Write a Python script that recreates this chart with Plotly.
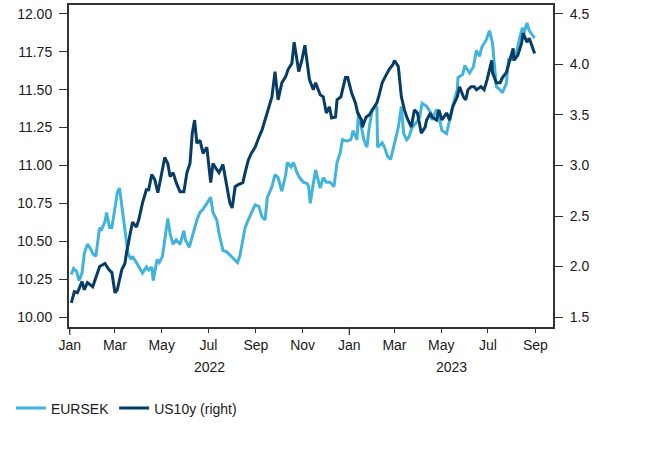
import plotly.graph_objects as go

us_dates = ["2022-01-03","2022-01-07","2022-01-11","2022-01-17","2022-01-20","2022-01-24","2022-01-31","2022-02-04","2022-02-09","2022-02-16","2022-02-21","2022-02-25","2022-03-01","2022-03-04","2022-03-10","2022-03-14","2022-03-16","2022-03-21","2022-03-24","2022-03-29","2022-04-01","2022-04-06","2022-04-11","2022-04-14","2022-04-18","2022-04-22","2022-04-26","2022-05-02","2022-05-05","2022-05-09","2022-05-12","2022-05-16","2022-05-20","2022-05-25","2022-05-30","2022-06-03","2022-06-07","2022-06-10","2022-06-13","2022-06-16","2022-06-20","2022-06-24","2022-06-29","2022-07-04","2022-07-07","2022-07-12","2022-07-15","2022-07-20","2022-07-25","2022-07-29","2022-08-01","2022-08-05","2022-08-09","2022-08-15","2022-08-18","2022-08-22","2022-08-26","2022-08-31","2022-09-05","2022-09-09","2022-09-13","2022-09-16","2022-09-22","2022-09-26","2022-09-30","2022-10-05","2022-10-10","2022-10-13","2022-10-18","2022-10-21","2022-10-25","2022-10-27","2022-10-31","2022-11-04","2022-11-10","2022-11-15","2022-11-18","2022-11-24","2022-11-28","2022-12-02","2022-12-06","2022-12-09","2022-12-14","2022-12-16","2022-12-21","2022-12-27","2022-12-30","2023-01-04","2023-01-09","2023-01-12","2023-01-17","2023-01-18","2023-01-23","2023-01-27","2023-01-31","2023-02-06","2023-02-09","2023-02-13","2023-02-17","2023-02-22","2023-02-27","2023-03-01","2023-03-06","2023-03-10","2023-03-14","2023-03-17","2023-03-23","2023-03-27","2023-03-31","2023-04-05","2023-04-10","2023-04-12","2023-04-17","2023-04-19","2023-04-25","2023-04-28","2023-05-02","2023-05-08","2023-05-12","2023-05-16","2023-05-22","2023-05-25","2023-05-30","2023-06-02","2023-06-05","2023-06-09","2023-06-13","2023-06-16","2023-06-22","2023-06-26","2023-06-30","2023-07-06","2023-07-07","2023-07-12","2023-07-17","2023-07-20","2023-07-25","2023-07-28","2023-08-03","2023-08-04","2023-08-09","2023-08-14","2023-08-16","2023-08-21","2023-08-24","2023-08-31"]
us10y = [1.64,1.75,1.74,1.85,1.77,1.84,1.80,1.90,2.00,2.03,1.97,1.94,1.74,1.77,1.97,2.03,2.13,2.33,2.44,2.39,2.46,2.63,2.76,2.76,2.91,2.86,2.73,2.96,3.08,3.02,2.89,2.93,2.83,2.74,2.74,2.93,3.02,3.32,3.45,3.22,3.25,3.12,3.18,2.83,3.02,2.96,2.93,3.01,2.79,2.63,2.58,2.79,2.81,2.83,2.93,3.05,3.12,3.18,3.28,3.35,3.45,3.53,3.68,3.93,3.65,3.82,3.88,3.95,4.01,4.22,4.04,3.93,4.04,4.19,3.85,3.75,3.82,3.70,3.68,3.52,3.58,3.47,3.48,3.65,3.68,3.87,3.87,3.72,3.62,3.52,3.45,3.38,3.48,3.50,3.55,3.62,3.70,3.82,3.88,3.95,4.00,4.04,3.98,3.68,3.55,3.48,3.38,3.55,3.52,3.32,3.38,3.45,3.52,3.48,3.45,3.55,3.45,3.52,3.45,3.58,3.68,3.78,3.68,3.65,3.75,3.78,3.78,3.75,3.78,3.75,3.85,4.04,3.92,3.82,3.82,3.87,3.92,4.00,4.16,4.04,4.09,4.21,4.31,4.22,4.26,4.11]

sek_dates = ["2022-01-03","2022-01-06","2022-01-10","2022-01-13","2022-01-17","2022-01-20","2022-01-24","2022-01-27","2022-01-31","2022-02-04","2022-02-09","2022-02-11","2022-02-16","2022-02-18","2022-02-22","2022-02-25","2022-03-02","2022-03-04","2022-03-07","2022-03-10","2022-03-14","2022-03-18","2022-03-22","2022-03-24","2022-03-29","2022-04-01","2022-04-06","2022-04-11","2022-04-14","2022-04-18","2022-04-20","2022-04-25","2022-04-28","2022-05-02","2022-05-09","2022-05-12","2022-05-16","2022-05-20","2022-05-25","2022-05-30","2022-06-01","2022-06-06","2022-06-10","2022-06-16","2022-06-20","2022-06-24","2022-06-29","2022-07-04","2022-07-07","2022-07-12","2022-07-15","2022-07-20","2022-07-25","2022-07-29","2022-08-02","2022-08-08","2022-08-11","2022-08-15","2022-08-18","2022-08-22","2022-08-26","2022-08-31","2022-09-05","2022-09-09","2022-09-13","2022-09-16","2022-09-22","2022-09-26","2022-09-30","2022-10-05","2022-10-10","2022-10-12","2022-10-17","2022-10-20","2022-10-25","2022-10-28","2022-11-02","2022-11-07","2022-11-09","2022-11-11","2022-11-15","2022-11-18","2022-11-24","2022-11-28","2022-12-02","2022-12-07","2022-12-12","2022-12-16","2022-12-20","2022-12-23","2022-12-29","2023-01-03","2023-01-06","2023-01-11","2023-01-13","2023-01-18","2023-01-20","2023-01-24","2023-01-27","2023-01-31","2023-02-06","2023-02-07","2023-02-13","2023-02-16","2023-02-20","2023-02-24","2023-02-28","2023-03-06","2023-03-10","2023-03-13","2023-03-17","2023-03-20","2023-03-24","2023-03-29","2023-04-03","2023-04-06","2023-04-12","2023-04-17","2023-04-19","2023-04-25","2023-04-28","2023-05-02","2023-05-08","2023-05-12","2023-05-16","2023-05-22","2023-05-23","2023-05-29","2023-06-01","2023-06-02","2023-06-07","2023-06-12","2023-06-16","2023-06-20","2023-06-23","2023-06-29","2023-07-03","2023-07-07","2023-07-10","2023-07-12","2023-07-17","2023-07-20","2023-07-25","2023-07-28","2023-08-02","2023-08-07","2023-08-11","2023-08-15","2023-08-17","2023-08-21","2023-08-24","2023-08-31"]
eursek = [10.28,10.32,10.30,10.24,10.29,10.42,10.48,10.46,10.42,10.40,10.59,10.57,10.63,10.69,10.59,10.59,10.75,10.82,10.85,10.73,10.57,10.42,10.38,10.40,10.36,10.33,10.29,10.33,10.31,10.33,10.24,10.38,10.36,10.40,10.65,10.55,10.48,10.51,10.48,10.57,10.51,10.46,10.53,10.64,10.69,10.71,10.75,10.79,10.69,10.64,10.55,10.44,10.43,10.41,10.39,10.36,10.40,10.51,10.59,10.64,10.69,10.74,10.73,10.66,10.64,10.79,10.86,10.94,10.92,10.83,10.94,11.02,10.99,11.02,10.95,10.92,10.89,10.88,10.86,10.75,10.88,10.97,10.85,10.92,10.89,10.89,10.86,11.02,11.08,11.17,11.16,11.17,11.23,11.17,11.35,11.23,11.17,11.12,11.25,11.37,11.39,11.12,11.15,11.12,11.06,11.04,11.12,11.25,11.39,11.21,11.17,11.19,11.25,11.28,11.32,11.41,11.39,11.35,11.30,11.37,11.32,11.23,11.21,11.30,11.39,11.50,11.58,11.60,11.66,11.65,11.61,11.65,11.76,11.72,11.78,11.83,11.89,11.81,11.65,11.52,11.50,11.48,11.54,11.70,11.70,11.74,11.83,11.91,11.87,11.94,11.89,11.84]

tick_dates = ["2022-01-01","2022-03-01","2022-05-01","2022-07-01","2022-09-01","2022-11-01",
              "2023-01-01","2023-03-01","2023-05-01","2023-07-01","2023-09-01"]
tick_labels = ["Jan","Mar","May","Jul","Sep","Nov","Jan","Mar","May","Jul","Sep"]
year_ticks = ["2022-01-01","2023-01-01"]
year_labels = ["2022","2023"]
year_label_pos = ["2022-07-03","2023-05-15"]

left_ticks = [10.00,10.25,10.50,10.75,11.00,11.25,11.50,11.75,12.00]
right_ticks = [1.5,2.0,2.5,3.0,3.5,4.0,4.5]

LIGHT = "#42b4dc"
DARK = "#073c64"
FONT = "Liberation Sans, Arial, sans-serif"
TXT = "#1a1a1a"
AX = "#333333"
xrange = ["2021-12-31", "2023-09-24"]
PLOT_H = 322.0

fig = go.Figure()
fig.add_trace(go.Scatter(x=sek_dates, y=eursek, name="EURSEK", mode="lines",
                         line=dict(color=LIGHT, width=3), yaxis="y"))
fig.add_trace(go.Scatter(x=us_dates, y=us10y, name="US10y (right)", mode="lines",
                         line=dict(color=DARK, width=3), yaxis="y2"))

common_font = dict(family=FONT, size=14, color=TXT)
fig.update_layout(
    width=671, height=462,
    margin=dict(l=69, r=118, t=5, b=135, autoexpand=False),
    paper_bgcolor="white", plot_bgcolor="white",
    font=common_font,
    showlegend=True,
    legend=dict(orientation="h", x=-0.120, xanchor="left", y=-0.253, yanchor="middle",
                font=common_font, bgcolor="rgba(0,0,0,0)", itemwidth=30, tracegroupgap=0),
    xaxis=dict(type="date", range=xrange, tickmode="array", tickvals=tick_dates, ticktext=tick_labels,
               ticks="outside", ticklen=4, tickwidth=1.2, tickcolor=AX,
               showline=True, linecolor=AX, linewidth=2, mirror=True, automargin=False,
               showgrid=False, zeroline=False, tickfont=common_font),
    yaxis=dict(range=[9.934, 12.059], tickmode="array", tickvals=left_ticks, tickformat=".2f",
               ticks="outside", ticklen=8, tickwidth=1.2, tickcolor=AX,
               showline=True, linecolor=AX, linewidth=2, mirror=True, automargin=False,
               showgrid=False, zeroline=False, tickfont=common_font, ticklabelstandoff=4),
    yaxis2=dict(range=[1.401, 4.589], overlaying="y", side="right", anchor="x",
                tickmode="array", tickvals=right_ticks, tickformat=".1f",
                ticks="outside", ticklen=8, tickwidth=1.2, tickcolor=AX,
                showline=True, linecolor=AX, linewidth=2, automargin=False,
                showgrid=False, zeroline=False, tickfont=common_font, ticklabelstandoff=4),
)

# longer tick marks at the year boundaries
for yt in year_ticks:
    fig.add_shape(type="line", xref="x", yref="paper", x0=yt, x1=yt, y0=0, y1=-8 / PLOT_H,
                  line=dict(color=AX, width=1.2))

for pos, lab in zip(year_label_pos, year_labels):
    fig.add_annotation(x=pos, y=-40 / PLOT_H, xref="x", yref="paper", text=lab, showarrow=False,
                       xanchor="center", yanchor="middle", font=common_font)

fig.write_html("out.html", config={"displayModeBar": False},
               post_script="document.body.style.margin='0';")
